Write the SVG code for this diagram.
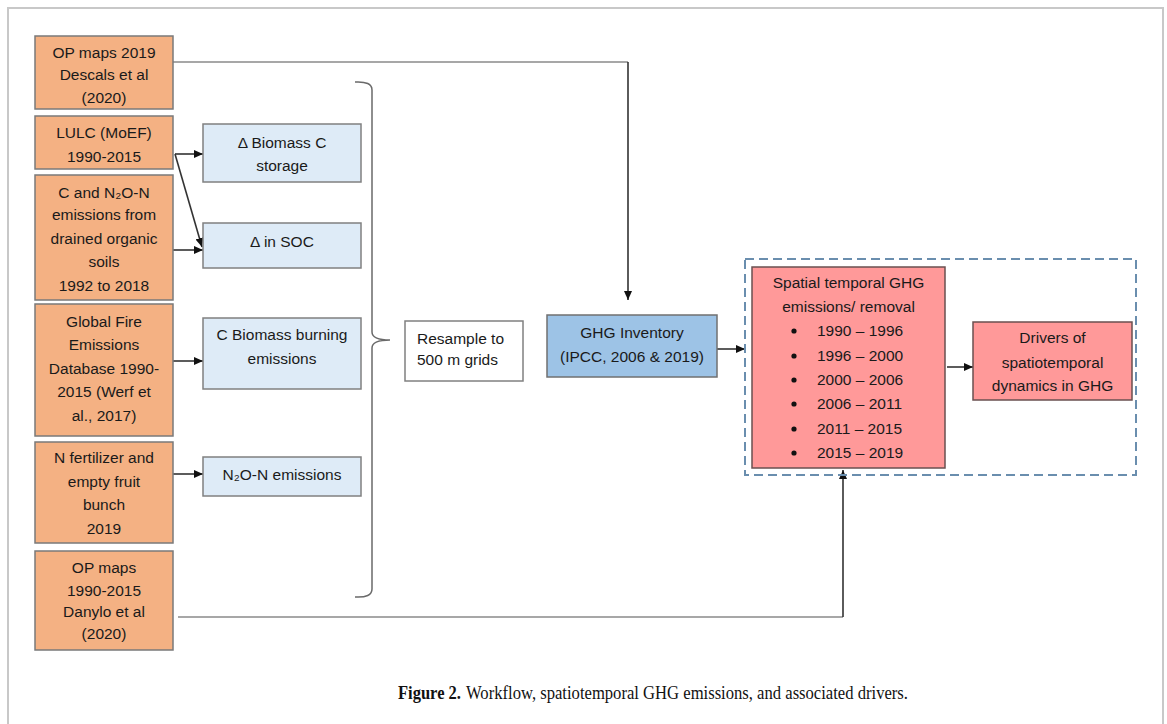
<svg xmlns="http://www.w3.org/2000/svg" width="1167" height="724" viewBox="0 0 1167 724">
<style>
.t{font-family:"Liberation Sans","DejaVu Sans",sans-serif;font-size:15.5px;fill:#1a1a1a;text-anchor:middle}
.l{text-anchor:start}
.or{fill:#F4B183;stroke:#7a7a7a;stroke-width:1.5}
.lb{fill:#DEEBF7;stroke:#808080;stroke-width:1.5}
.bb{fill:#9DC3E6;stroke:#707070;stroke-width:1.5}
.rd{fill:#FF9999;stroke:#6a5050;stroke-width:1.5}
.wh{fill:#fff;stroke:#808080;stroke-width:1.5}
.c{fill:none;stroke:#333;stroke-width:1.6}
.cg{fill:none;stroke:#8a8a8a;stroke-width:1.6}
.cap{font-family:"Liberation Serif","DejaVu Serif",serif;font-size:18.5px;fill:#111}
</style>
<defs>
<marker id="ah" markerUnits="userSpaceOnUse" markerWidth="9" markerHeight="8" refX="9" refY="4" orient="auto">
<path d="M0,0 L9,4 L0,8 z" fill="#111"/>
</marker>
</defs>
<rect x="0" y="0" width="1167" height="724" fill="#fff"/>
<path d="M8,730 V8 H1163 V730" fill="none" stroke="#c8c8c8" stroke-width="2"/>

<g id="connectors">
<path class="cg" d="M173,62 H628"/>
<path class="c" d="M628,62 V300" marker-end="url(#ah)"/>
<path class="cg" d="M178,617 H843"/>
<path class="c" d="M843,617 V470" marker-end="url(#ah)"/>
<path class="c" d="M175,154 H203" marker-end="url(#ah)"/>
<path class="c" d="M175,154 L202,247" marker-end="url(#ah)"/>
<path class="c" d="M173,250 H203" marker-end="url(#ah)"/>
<path class="c" d="M173,361 H203" marker-end="url(#ah)"/>
<path class="c" d="M173,474 H203" marker-end="url(#ah)"/>
<path class="c" d="M717,349 H745" marker-end="url(#ah)"/>
<path class="c" d="M947,367 H973" marker-end="url(#ah)"/>
<path d="M355,82 Q372,81 372,90 V332 Q372,340 390,340 Q372,340 372,348 V589 Q372,598 355,597" fill="none" stroke="#6a6a6a" stroke-width="1.5"/>
</g>

<g id="op2019">
<rect class="or" x="35" y="36" width="138" height="73"/>
<text class="t" x="104" y="58">OP maps 2019</text>
<text class="t" x="104" y="80">Descals et al</text>
<text class="t" x="104" y="103">(2020)</text>
</g>
<g id="lulc">
<rect class="or" x="35" y="116" width="138" height="53"/>
<text class="t" x="104" y="138">LULC (MoEF)</text>
<text class="t" x="104" y="162">1990-2015</text>
</g>
<g id="drained">
<rect class="or" x="35" y="175" width="138" height="125"/>
<text class="t" x="104" y="198">C and N₂O-N</text>
<text class="t" x="104" y="220">emissions from</text>
<text class="t" x="104" y="244">drained organic</text>
<text class="t" x="104" y="267">soils</text>
<text class="t" x="104" y="291">1992 to 2018</text>
</g>
<g id="fire">
<rect class="or" x="35" y="304" width="138" height="132"/>
<text class="t" x="104" y="327">Global Fire</text>
<text class="t" x="104" y="350">Emissions</text>
<text class="t" x="104" y="374">Database 1990-</text>
<text class="t" x="104" y="397">2015 (Werf et</text>
<text class="t" x="104" y="421">al., 2017)</text>
</g>
<g id="fert">
<rect class="or" x="35" y="442" width="138" height="101"/>
<text class="t" x="104" y="463">N fertilizer and</text>
<text class="t" x="104" y="487">empty fruit</text>
<text class="t" x="104" y="510">bunch</text>
<text class="t" x="104" y="534">2019</text>
</g>
<g id="op1990">
<rect class="or" x="35" y="551" width="138" height="99"/>
<text class="t" x="104" y="573">OP maps</text>
<text class="t" x="104" y="596">1990-2015</text>
<text class="t" x="104" y="617">Danylo et al</text>
<text class="t" x="104" y="639">(2020)</text>
</g>

<g id="biomass">
<rect class="lb" x="203" y="124" width="158" height="58"/>
<text class="t" x="282" y="148">Δ Biomass C</text>
<text class="t" x="282" y="171">storage</text>
</g>
<g id="soc">
<rect class="lb" x="203" y="223" width="158" height="45"/>
<text class="t" x="282" y="247">Δ in SOC</text>
</g>
<g id="burning">
<rect class="lb" x="203" y="318" width="158" height="71"/>
<text class="t" x="282" y="340">C Biomass burning</text>
<text class="t" x="282" y="364">emissions</text>
</g>
<g id="n2o">
<rect class="lb" x="203" y="457" width="158" height="39"/>
<text class="t" x="282" y="480">N₂O-N emissions</text>
</g>

<g id="resample">
<rect class="wh" x="405" y="321" width="118" height="60"/>
<text class="t l" x="417" y="344">Resample to</text>
<text class="t l" x="417" y="365">500 m grids</text>
</g>
<g id="ghg">
<rect class="bb" x="547" y="315" width="170" height="62"/>
<text class="t" x="632" y="338">GHG Inventory</text>
<text class="t" x="632" y="362">(IPCC, 2006 &amp; 2019)</text>
</g>

<g id="group">
<rect x="745" y="259" width="391" height="216" fill="none" stroke="#6A8EAE" stroke-width="2" stroke-dasharray="9 5"/>
</g>
<g id="spatial">
<rect class="rd" x="752" y="267" width="193" height="201"/>
<text class="t" x="848.5" y="288">Spatial temporal GHG</text>
<text class="t" x="848.5" y="312">emissions/ removal</text>
<g fill="#111">
<circle cx="794" cy="331" r="2.6"/><circle cx="794" cy="356" r="2.6"/><circle cx="794" cy="380" r="2.6"/>
<circle cx="794" cy="404" r="2.6"/><circle cx="794" cy="429" r="2.6"/><circle cx="794" cy="453" r="2.6"/>
</g>
<text class="t l" x="817" y="336">1990 – 1996</text>
<text class="t l" x="817" y="361">1996 – 2000</text>
<text class="t l" x="817" y="385">2000 – 2006</text>
<text class="t l" x="817" y="409">2006 – 2011</text>
<text class="t l" x="817" y="434">2011 – 2015</text>
<text class="t l" x="817" y="458">2015 – 2019</text>
</g>
<g id="drivers">
<rect class="rd" x="973" y="322" width="159" height="78"/>
<text class="t" x="1052.5" y="343">Drivers of</text>
<text class="t" x="1052.5" y="368">spatiotemporal</text>
<text class="t" x="1052.5" y="391">dynamics in GHG</text>
</g>

<text class="cap" x="398" y="699" font-weight="bold" textLength="63" lengthAdjust="spacingAndGlyphs">Figure 2.</text>
<text class="cap" x="466" y="699" textLength="442" lengthAdjust="spacingAndGlyphs">Workflow, spatiotemporal GHG emissions, and associated drivers.</text>
</svg>
